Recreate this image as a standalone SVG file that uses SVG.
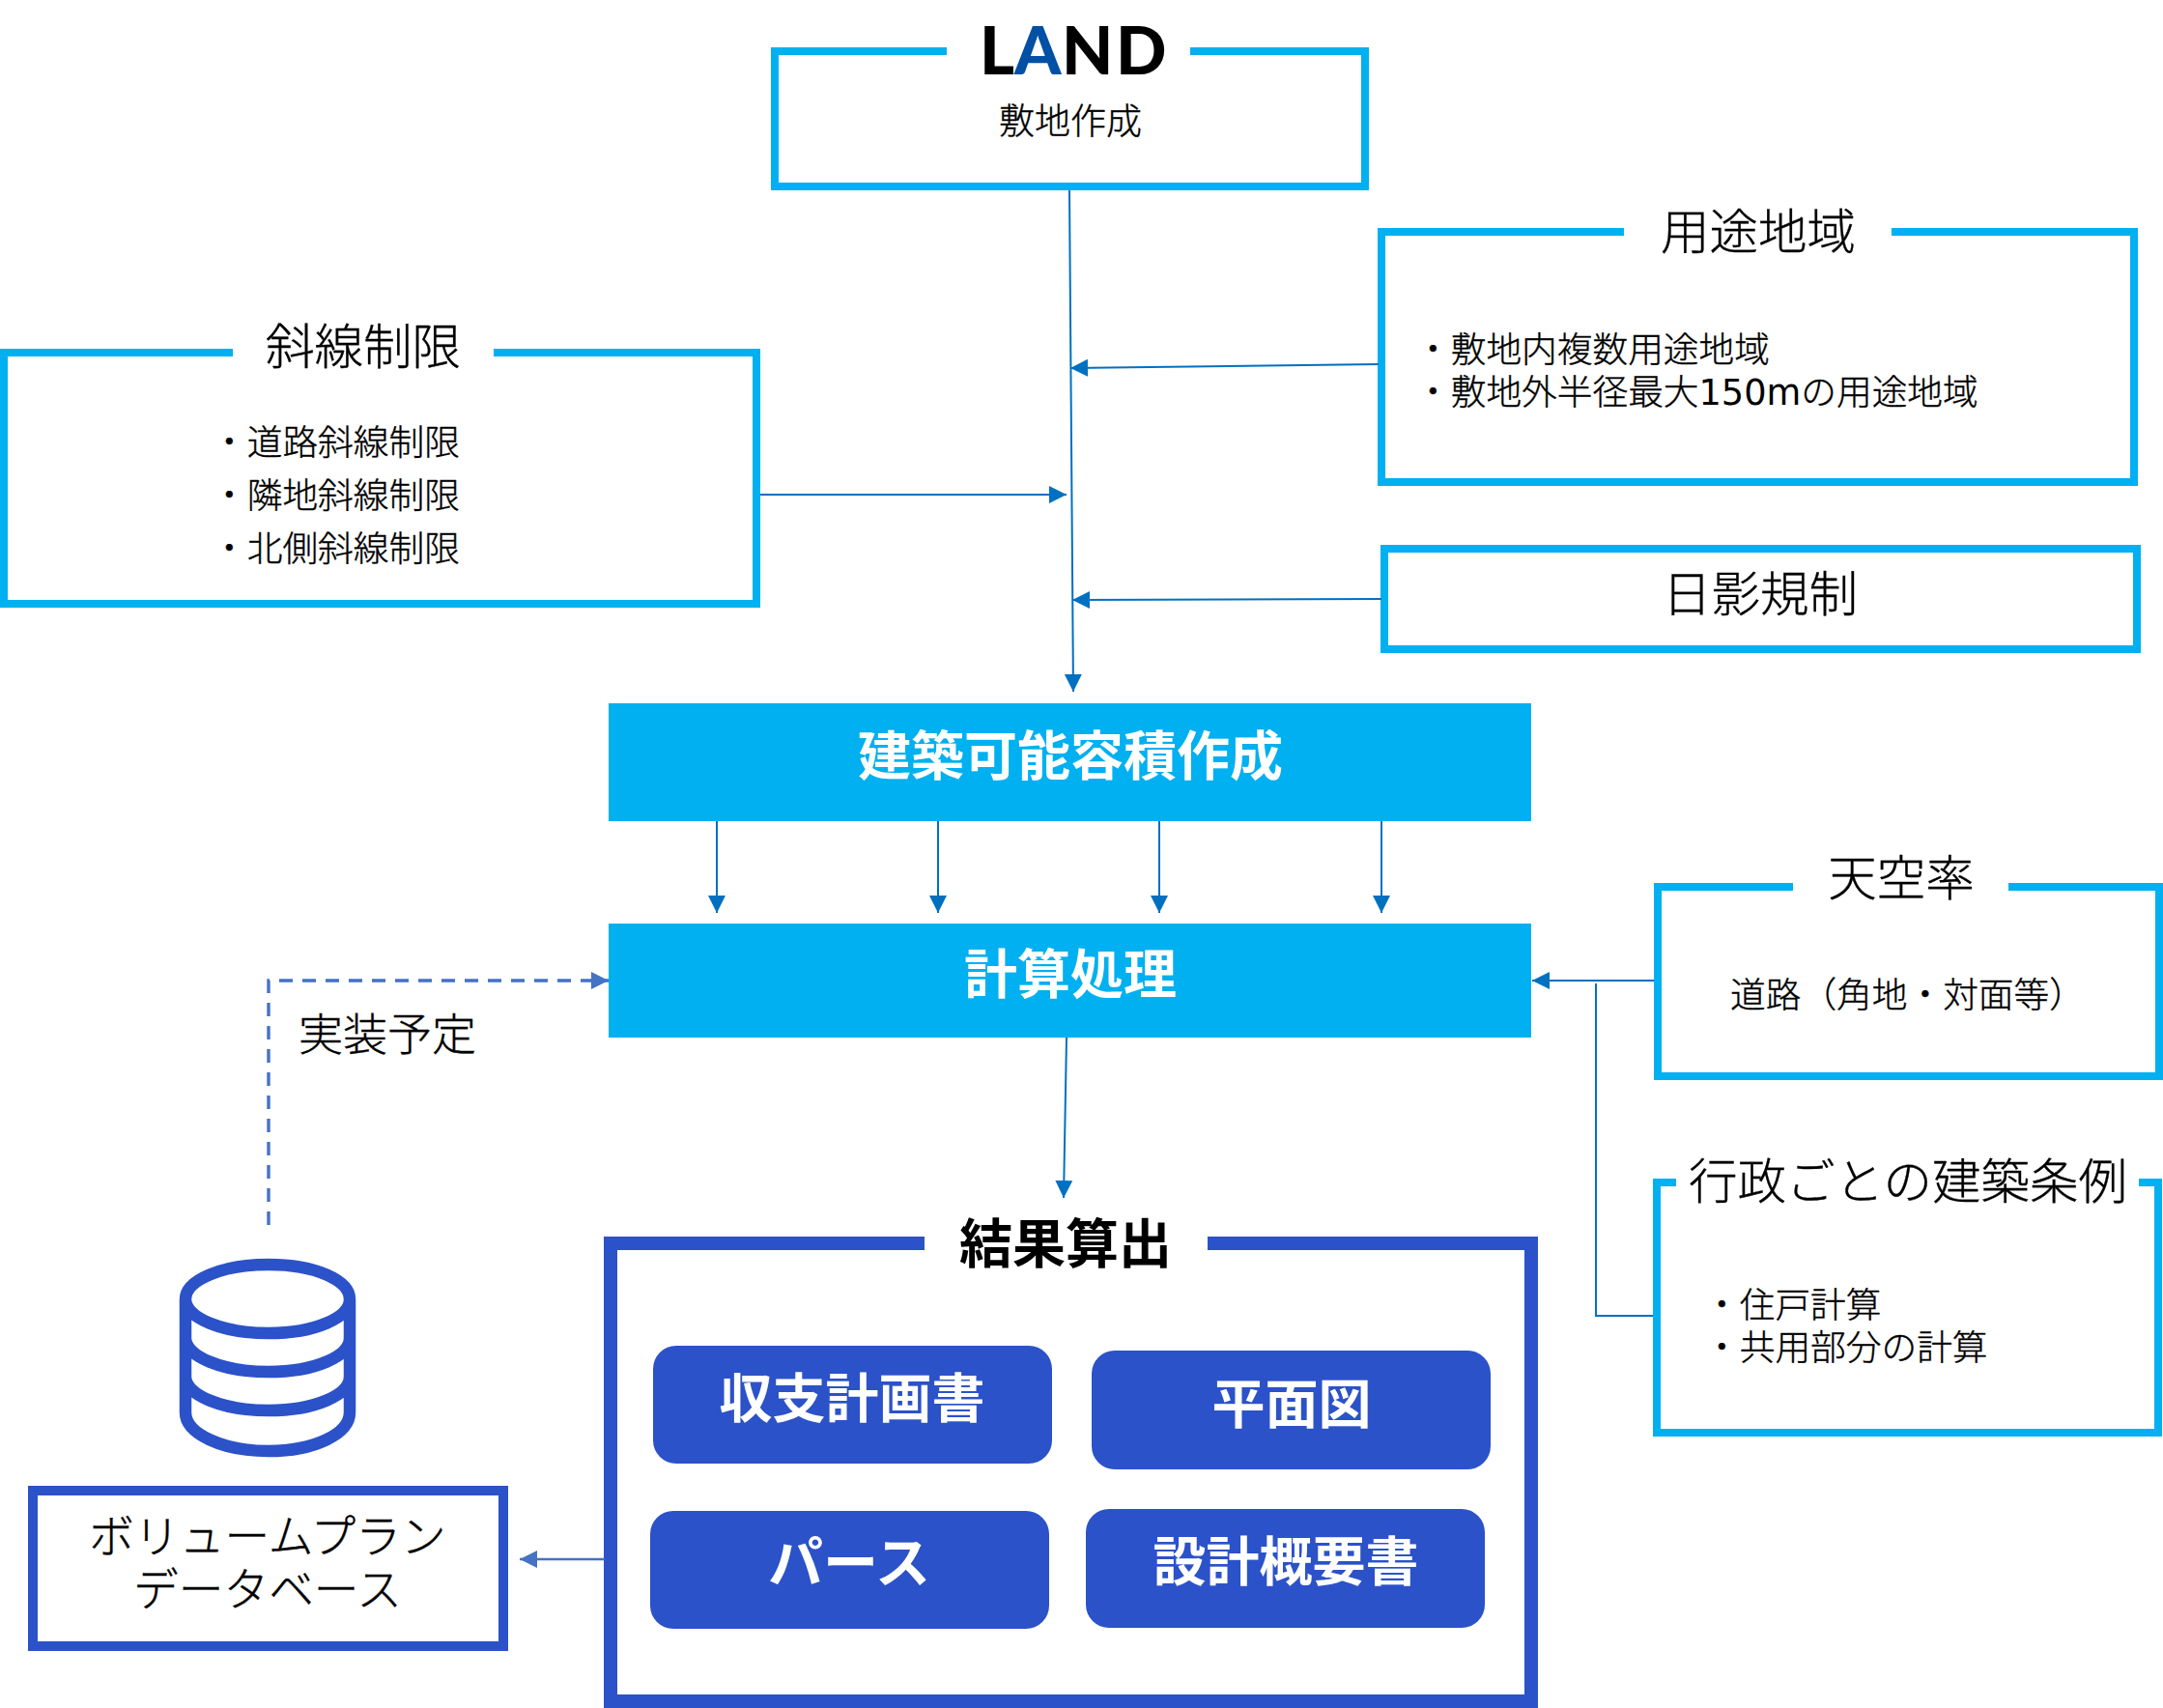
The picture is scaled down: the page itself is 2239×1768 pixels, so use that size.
<svg xmlns="http://www.w3.org/2000/svg" width="2239" height="1768" viewBox="0 0 2239 1768">
<style>
text{font-family:"DejaVu Sans","Noto Sans CJK JP",sans-serif;fill:#000;font-weight:300;stroke:#000;stroke-width:.35}
.c{fill:#fff;stroke:#00b0f0;stroke-width:8}
.g{fill:#fff;stroke:none}
.d{fill:#fff;stroke:#2b52c8}
.bar{fill:#00b0f0}
.pill{fill:#2b52c8}
text.w{fill:#fff;stroke:none;font-weight:700;font-size:55px;text-anchor:middle}
.t{font-size:50.5px;text-anchor:middle}
.b{font-size:36.7px}
.m{text-anchor:middle}
.l{fill:none;stroke:#0070c0;stroke-width:2}
.ll{fill:none;stroke:#4472c4;stroke-width:2.5}
text.logo{font-family:"Lato",sans-serif;font-weight:900;font-size:69px;stroke:none}
tspan.n{font-weight:400;stroke:none}
</style>
<defs>
<marker id="a" markerUnits="userSpaceOnUse" markerWidth="20" markerHeight="20" refX="18" refY="9" orient="auto"><path d="M0 0L18 9L0 18Z" fill="#0070c0"/></marker>
<marker id="b" markerUnits="userSpaceOnUse" markerWidth="20" markerHeight="20" refX="18" refY="9" orient="auto"><path d="M0 0L18 9L0 18Z" fill="#4472c4"/></marker>
</defs>
<g id="land">
<rect class="c" x="802" y="53" width="611" height="140"/>
<rect class="g" x="980" y="40" width="252" height="30"/>
<text class="logo" y="77"><tspan x="1014">L</tspan><tspan x="1050" fill="#0050a4">A</tspan><tspan x="1099">N</tspan><tspan x="1155">D</tspan></text>
<text class="m" x="1108" y="139" style="font-size:37px">敷地作成</text>
</g>
<g id="youto">
<rect class="c" x="1430" y="240" width="779" height="259"/>
<rect class="g" x="1681" y="225" width="277" height="30"/>
<text class="t" x="1820" y="258">用途地域</text>
<text class="b" x="1465" y="375">・敷地内複数用途地域</text>
<text class="b" x="1465" y="419">・敷地外半径最大<tspan class="n">150m</tspan>の用途地域</text>
</g>
<g id="shasen">
<rect class="c" x="4" y="365" width="779" height="260"/>
<rect class="g" x="241" y="350" width="270" height="30"/>
<text class="t" x="376" y="377">斜線制限</text>
<text class="b" x="219" y="471">・道路斜線制限</text>
<text class="b" x="219" y="526">・隣地斜線制限</text>
<text class="b" x="219" y="581">・北側斜線制限</text>
</g>
<g id="nichiei">
<rect class="c" x="1433" y="568" width="779" height="104"/>
<text class="t" x="1822" y="633">日影規制</text>
</g>
<g id="kenchiku">
<rect class="bar" x="630" y="728" width="955" height="122"/>
<text class="w" x="1108" y="802">建築可能容積作成</text>
</g>
<g id="keisan">
<rect class="bar" x="630" y="956" width="955" height="118"/>
<text class="w" x="1108" y="1028">計算処理</text>
</g>
<g id="tenku">
<rect class="c" x="1716" y="918" width="519" height="196"/>
<rect class="g" x="1856" y="905" width="223" height="30"/>
<text class="t" x="1968" y="927">天空率</text>
<text class="b" x="1791" y="1043">道路（角地・対面等）</text>
</g>
<g id="jorei">
<rect class="c" x="1715" y="1224" width="519" height="259"/>
<rect class="g" x="1735" y="1210" width="479" height="30"/>
<text class="t" x="1975" y="1241">行政ごとの建築条例</text>
<text class="b" x="1764" y="1364">・住戸計算</text>
<text class="b" x="1764" y="1408">・共用部分の計算</text>
</g>
<g id="kekka">
<rect class="d" x="632" y="1287" width="953" height="474" stroke-width="14"/>
<rect class="g" x="957" y="1270" width="293" height="30"/>
<text class="w" x="1103" y="1307" style="fill:#000">結果算出</text>
</g>
<g id="shushi"><rect class="pill" x="676" y="1393" width="413" height="122" rx="24"/><text class="w" x="882" y="1467">収支計画書</text></g>
<g id="heimen"><rect class="pill" x="1130" y="1398" width="413" height="123" rx="24"/><text class="w" x="1337" y="1473">平面図</text></g>
<g id="pers"><rect class="pill" x="673" y="1564" width="413" height="122" rx="24"/><text class="w" x="879" y="1638" style="font-size:57px">パース</text></g>
<g id="sekkei"><rect class="pill" x="1124" y="1562" width="413" height="123" rx="24"/><text class="w" x="1331" y="1636">設計概要書</text></g>
<g id="db">
<path d="M192 1345C192 1325 230 1309 278 1309C326 1309 362 1325 362 1345V1462C362 1484 326 1502 278 1502C230 1502 192 1484 192 1462ZM192 1345C192 1364 230 1380 278 1380C326 1380 362 1364 362 1345M192 1385C192 1404 230 1420 278 1420C326 1420 362 1404 362 1385M192 1425C192 1444 230 1460 278 1460C326 1460 362 1444 362 1425" fill="none" stroke="#2b52c8" stroke-width="12.5"/>
</g>
<g id="volume">
<rect class="d" x="34" y="1543" width="487" height="161" stroke-width="10"/>
<text class="m" x="277" y="1607" style="font-size:46.7px">ボリュームプラン</text>
<text class="m" x="277" y="1662" style="font-size:46.7px">データベース</text>
</g>
<text x="309" y="1087" style="font-size:46px">実装予定</text>
<g id="connectors">
<path class="l" d="M1107 197L1111 716" marker-end="url(#a)"/>
<path class="l" d="M1427 377L1108 381" marker-end="url(#a)"/>
<path class="l" d="M787 512H1104" marker-end="url(#a)"/>
<path class="l" d="M1430 620L1110 621" marker-end="url(#a)"/>
<path class="l" d="M742 850V945" marker-end="url(#a)"/>
<path class="l" d="M971 850V945" marker-end="url(#a)"/>
<path class="l" d="M1200 850V945" marker-end="url(#a)"/>
<path class="l" d="M1430 850V945" marker-end="url(#a)"/>
<path class="l" d="M1104 1074L1101 1240" marker-end="url(#a)"/>
<path class="l" d="M1712 1015H1586" marker-end="url(#a)"/>
<path class="l" d="M1711 1362H1652V1018"/>
<path class="ll" d="M626 1614H538" marker-end="url(#b)"/>
<path class="ll" d="M278 1268V1015H630" stroke-width="3.4" stroke-dasharray="14 10" marker-end="url(#b)" style="stroke-width:3.4"/>
</g>
</svg>
